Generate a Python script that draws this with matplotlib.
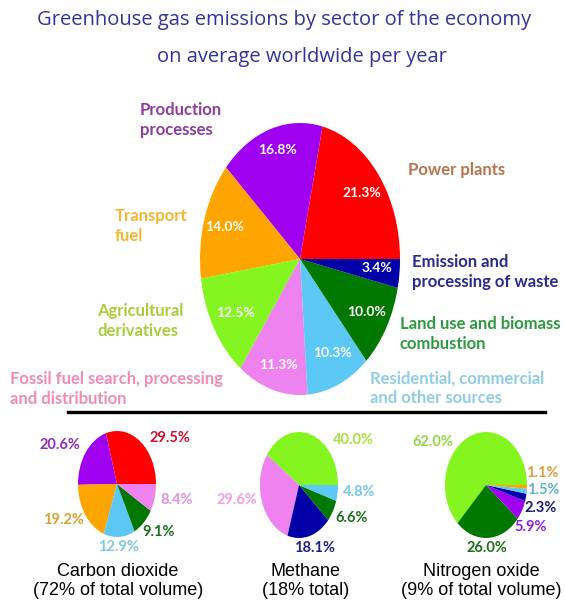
import matplotlib.pyplot as plt

# ----- Data -----
main_sectors = ["Power plants", "Production processes", "Transport fuel",
                "Agricultural derivatives", "Fossil fuel search",
                "Residential", "Land use", "Waste"]
main_values = [21.3, 16.8, 14.0, 12.5, 11.3, 10.3, 10.0, 3.4]

co2_values = [29.5, 20.6, 19.2, 12.9, 9.1, 8.4]
ch4_values = [40.0, 29.6, 18.1, 6.6, 4.8]
n2o_values = [62.0, 26.0, 5.9, 2.3, 1.5, 1.1]

# ----- Colours -----
RED, PURPLE, ORANGE = '#FF0000', '#A000F0', '#FFA500'
LIME, PINK, SKY = '#84F51E', '#EE82EE', '#5CC8F5'
DGREEN, DBLUE = '#007800', '#0000A6'

main_colors = [RED, PURPLE, ORANGE, LIME, PINK, SKY, DGREEN, DBLUE]
co2_colors = [RED, PURPLE, ORANGE, SKY, DGREEN, PINK]
ch4_colors = [LIME, PINK, DBLUE, DGREEN, SKY]
n2o_colors = [LIME, DGREEN, PURPLE, DBLUE, SKY, ORANGE]

W, H = 565, 600
fig = plt.figure(figsize=(W / 100, H / 100), dpi=100)

# overlay axes in pixel coordinates for text and the rule
ax = fig.add_axes([0, 0, 1, 1], zorder=5)
ax.set_xlim(0, W)
ax.set_ylim(H, 0)
ax.axis('off')
ax.patch.set_alpha(0)


def pie_axes(cx, cy, w, h, values, colors):
    pa = fig.add_axes([(cx - w / 2) / W, 1 - (cy + h / 2) / H, w / W, h / H])
    pa.pie(values, colors=colors, startangle=0, counterclock=True,
           wedgeprops=dict(linewidth=0))
    pa.set_xlim(-1, 1)
    pa.set_ylim(-1, 1)
    pa.set_aspect('auto')
    pa.axis('off')
    return pa


# ----- Title -----
title_col = '#33339A'
ax.text(284, 20, "Greenhouse gas emissions by sector of the economy",
        ha='center', va='center', fontsize=14.5, color=title_col,
        family='Open Sans')
ax.text(302, 57, "on average worldwide per year",
        ha='center', va='center', fontsize=14.5, color=title_col,
        family='Open Sans')

# ----- Main pie -----
pie_axes(300, 259, 200, 272, main_values, main_colors)
main_pct_pos = [(362, 193), (277, 150), (225, 227), (235, 313),
                (278, 365), (332, 353), (367, 312), (377, 268)]
for v, (x, y) in zip(main_values, main_pct_pos):
    ax.text(x, y, f"{v:.1f}%", ha='center', va='center', color='white',
            fontsize=10, fontweight='bold', family='Lato')

main_labels = [
    ("Production\nprocesses", 140, 120, '#8E3C9E'),
    ("Power plants", 408, 170, '#B8744F'),
    ("Emission and\nprocessing of waste", 412, 272, '#2A2A90'),
    ("Land use and biomass\ncombustion", 400, 334, '#2E9A40'),
    ("Residential, commercial\nand other sources", 370, 388, '#90CDE2'),
    ("Fossil fuel search, processing\nand distribution", 10, 389, '#F08CB4'),
    ("Agricultural\nderivatives", 97, 321, '#A8CC3A'),
    ("Transport\nfuel", 115, 226, '#F5B730'),
]
for txt, x, y, c in main_labels:
    ax.text(x, y, txt, ha='left', va='center', color=c, fontsize=12,
            fontweight='bold', family='Lato', linespacing=1.3)

# ----- Separator -----
ax.plot([68, 545], [412, 412], color='black', lw=2.4)

# ----- Small pies -----
pie_axes(117, 484, 78, 106, co2_values, co2_colors)
pie_axes(299, 485, 78, 106, ch4_values, ch4_colors)
pie_axes(486, 485, 82, 106, n2o_values, n2o_colors)

co2_lab = [(170, 438, '#CC1030'), (60, 445, '#8E2CC0'), (63, 520, '#D8A030'),
           (118, 547, '#80C8E0'), (159, 532, '#1A6E1A'), (177, 500, '#E090E0')]
ch4_lab = [(353, 440, '#A8E040'), (237, 500, '#F0A0E0'), (315, 548, '#202080'),
           (352, 518, '#1A6E1A'), (359, 492, '#70C8E8')]
n2o_lab = [(433, 442, '#90D840'), (487, 548, '#1A6E1A'), (531, 527, '#9020E0'),
           (541, 508, '#1A1A70'), (543, 490, '#60B0D0'), (542, 473, '#D8A040')]

for vals, labs in [(co2_values, co2_lab), (ch4_values, ch4_lab),
                   (n2o_values, n2o_lab)]:
    for v, (x, y, c) in zip(vals, labs):
        ax.text(x, y, f"{v:.1f}%", ha='center', va='center', color=c,
                fontsize=10.5, fontweight='bold', family='Lato')

captions = [("Carbon dioxide\n(72% of total volume)", 118),
            ("Methane\n(18% total)", 306),
            ("Nitrogen oxide\n(9% of total volume)", 481)]
for txt, x in captions:
    ax.text(x, 581, txt, ha='center', va='center', fontsize=13,
            family='Liberation Sans', color='black', linespacing=1.1)

fig.savefig("out.png", dpi=100)
